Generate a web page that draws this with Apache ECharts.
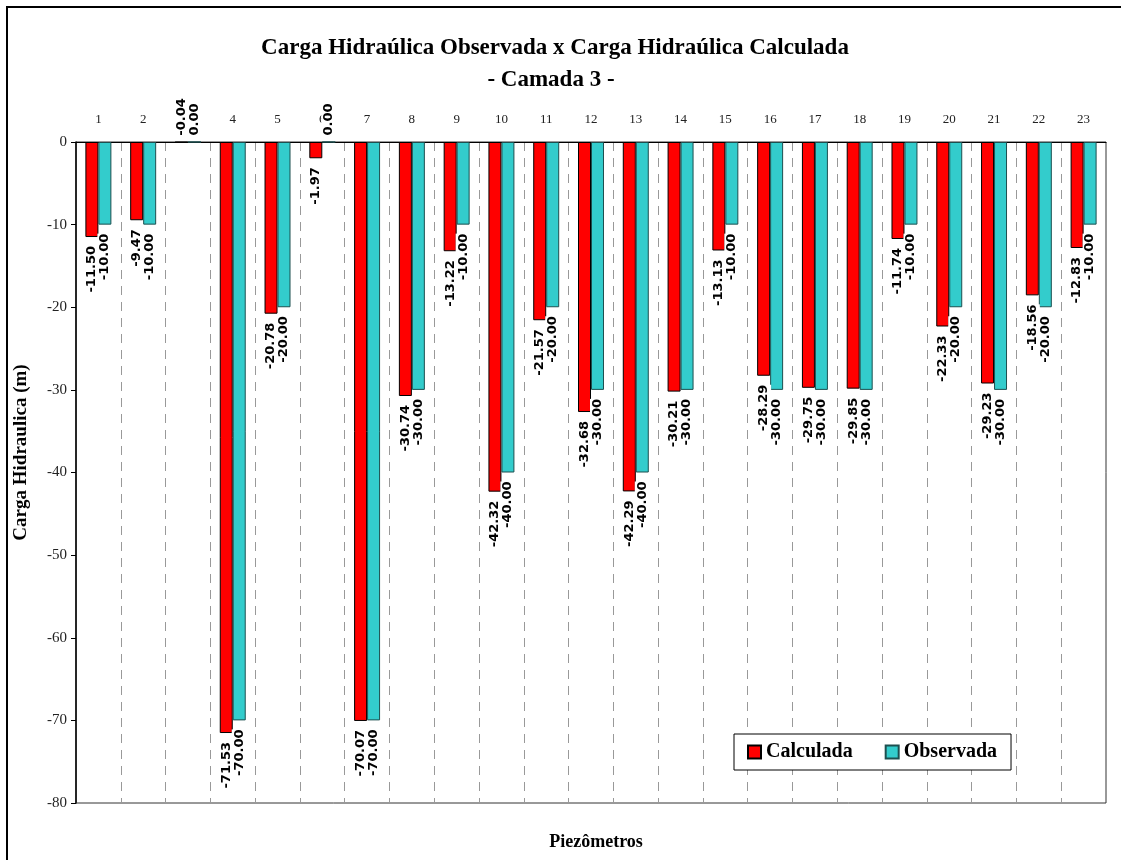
<!DOCTYPE html>
<html>
<head>
<meta charset="utf-8">
<title>Carga Hidraúlica - Camada 3</title>
<script src="https://cdn.jsdelivr.net/npm/echarts@6/dist/echarts.min.js"></script>
<style>
  html, body { margin: 0; padding: 0; background: #fff; }
  #chart { width: 1121px; height: 860px; }
</style>
</head>
<body>
<div id="chart"></div>
<script>
// Piezometer ids shown along the top axis
const categories = ['1','2','3','4','5','6','7','8','9','10','11','12','13','14','15','16','17','18','19','20','21','22','23'];
// Calculated hydraulic head (m)
const calculada = [-11.50, -9.47, -0.04, -71.53, -20.78, -1.97, -70.07, -30.74, -13.22, -42.32, -21.57, -32.68,
                   -42.29, -30.21, -13.13, -28.29, -29.75, -29.85, -11.74, -22.33, -29.23, -18.56, -12.83];
// Observed hydraulic head (m)
const observada = [-10.00, -10.00, 0.00, -70.00, -20.00, 0.00, -70.00, -30.00, -10.00, -40.00, -20.00, -30.00,
                   -40.00, -30.00, -10.00, -30.00, -30.00, -30.00, -10.00, -20.00, -30.00, -20.00, -10.00];
// Value axis range and step
const yMin = -80, yMax = 0, yStep = 10;

const serif = 'Liberation Serif';

// Vertical value labels hang below each bar; near-zero values sit above the axis instead
function withLabels(values) {
  return values.map(v => {
    if (Math.abs(v) < 0.5) {
      return { value: v, label: { position: 'top', align: 'left', distance: 6 } };
    }
    return { value: v };
  });
}

const valueLabel = {
  show: true,
  position: 'bottom',
  rotate: 90,
  align: 'right',
  verticalAlign: 'middle',
  distance: 9,
  formatter: p => p.value.toFixed(2),
  fontFamily: 'DejaVu Sans',
  fontWeight: 'bold',
  fontSize: 13,
  color: '#000',
  backgroundColor: '#fff',
  padding: [1, 0, 1, 0]
};

const chart = echarts.init(document.getElementById('chart'), null, { renderer: 'canvas' });

chart.setOption({
  backgroundColor: '#fff',
  animation: false,
  title: [
    {
      text: 'Carga Hidraúlica Observada x Carga Hidraúlica Calculada',
      left: 550, top: 32, textAlign: 'center',
      textStyle: { fontFamily: serif, fontSize: 23, fontWeight: 'bold', color: '#000' }
    },
    {
      text: '- Camada 3 -',
      left: 546, top: 64, textAlign: 'center',
      textStyle: { fontFamily: serif, fontSize: 23, fontWeight: 'bold', color: '#000' }
    },
    {
      text: 'Piezômetros',
      left: 591, top: 828, textAlign: 'center',
      textStyle: { fontFamily: serif, fontSize: 18, fontWeight: 'bold', color: '#000' }
    }
  ],
  graphic: [
    {
      type: 'rect', z: -10, silent: true,
      shape: { x: 7, y: 7, width: 1140, height: 880 },
      style: { fill: 'none', stroke: '#000', lineWidth: 2 }
    }
  ],
  legend: {
    left: 734, top: 734,
    orient: 'horizontal',
    backgroundColor: '#fff',
    borderColor: '#000',
    borderWidth: 1,
    padding: [8, 14, 8, 13],
    itemWidth: 13, itemHeight: 13, itemGap: 32,
    icon: 'rect',
    textStyle: { fontFamily: serif, fontSize: 20, fontWeight: 'bold', color: '#000' },
    data: ['Calculada', 'Observada']
  },
  grid: {
    left: 76, right: 15, top: 142, bottom: 57,
    show: true, borderColor: '#333', borderWidth: 1
  },
  xAxis: {
    type: 'category',
    position: 'top',
    data: categories,
    boundaryGap: true,
    axisLine: { show: true, onZero: false, lineStyle: { color: '#000', width: 1 } },
    axisTick: { show: false },
    axisLabel: { margin: 16, fontFamily: serif, fontSize: 13, color: '#222' },
    splitLine: { show: true, lineStyle: { color: '#999', width: 1, type: [9, 7] } }
  },
  yAxis: {
    type: 'value',
    min: yMin, max: yMax, interval: yStep,
    name: 'Carga Hidraulica (m)',
    nameLocation: 'middle',
    nameGap: 45,
    nameRotate: 90,
    nameTextStyle: { fontFamily: serif, fontSize: 19, fontWeight: 'bold', color: '#000', padding: [0, 0, 0, 40] },
    axisLine: { show: true, lineStyle: { color: '#000', width: 1.5 } },
    axisTick: { show: true, inside: false, length: 5, lineStyle: { color: '#000' } },
    axisLabel: { margin: 9, fontFamily: serif, fontSize: 15, color: '#222' },
    splitLine: { show: false }
  },
  series: [
    {
      name: 'Calculada',
      type: 'bar',
      data: withLabels(calculada),
      barGap: '0%',
      barCategoryGap: '42%',
      itemStyle: { color: '#ff0000', borderColor: '#000', borderWidth: 1 },
      label: valueLabel
    },
    {
      name: 'Observada',
      type: 'bar',
      data: withLabels(observada),
      barGap: '0%',
      barCategoryGap: '42%',
      itemStyle: { color: '#33cccc', borderColor: '#1d4f4f', borderWidth: 1 },
      label: valueLabel
    }
  ]
});
</script>
</body>
</html>
